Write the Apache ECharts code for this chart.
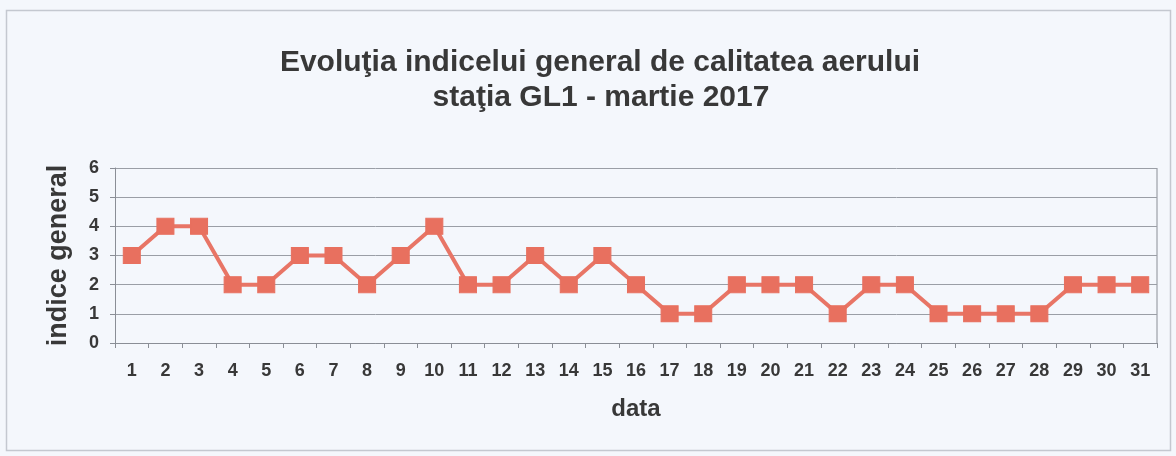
<!DOCTYPE html>
<html><head><meta charset="utf-8">
<script src="https://cdn.jsdelivr.net/npm/echarts@6/dist/echarts.min.js"></script>
<style>html,body{margin:0;padding:0;background:#f4f7fc;}#c{width:1176px;height:456px;}</style>
</head><body><div id="c"></div>
<script>
const categories = ['1','2','3','4','5','6','7','8','9','10','11','12','13','14','15','16','17','18','19','20','21','22','23','24','25','26','27','28','29','30','31'];
const values = [3,4,4,2,2,3,3,2,3,4,2,2,3,2,3,2,1,1,2,2,2,1,2,2,1,1,1,1,2,2,2];
const titleLine1 = 'Evoluţia indicelui general de calitatea aerului';
const titleLine2 = 'staţia GL1 - martie 2017';
const font = 'Liberation Sans, Arial, sans-serif';
const chart = echarts.init(document.getElementById('c'));
chart.setOption({
  backgroundColor: '#f4f7fc',
  animation: false,
  graphic: [
    {type:'rect', shape:{x:6.5,y:10.5,width:1164,height:440}, style:{fill:null, stroke:'#c4c8d0', lineWidth:1.5}},
    {type:'line', shape:{x1:1157,y1:168,x2:1157,y2:343}, style:{stroke:'#8a8e96', lineWidth:1}}
  ],
  title: [
    {text: titleLine1, left: 595, top: 43, textAlign: 'center', textStyle:{fontFamily:font, fontSize:30, fontWeight:'bold', color:'#383838'}},
    {text: titleLine2, left: 596, top: 78, textAlign: 'center', textStyle:{fontFamily:font, fontSize:30, fontWeight:'bold', color:'#383838'}}
  ],
  grid: {left:115, right:19, top:168, bottom:113},
  xAxis: {
    type:'category', data: categories, boundaryGap:true,
    name:'data', nameLocation:'middle', nameGap:54,
    nameTextStyle:{fontFamily:font, fontSize:24, fontWeight:'bold', color:'#383838'},
    axisLine:{lineStyle:{color:'#8a8e96', width:1}},
    axisTick:{show:true, alignWithLabel:false, length:5, lineStyle:{color:'#8a8e96'}},
    axisLabel:{fontFamily:font, fontSize:18, fontWeight:'bold', color:'#383838', margin:19, interval:0},
    splitLine:{show:false}
  },
  yAxis: {
    type:'value', min:0, max:6, interval:1,
    name:'indice general', nameLocation:'middle', nameGap:43, nameRotate:90,
    nameTextStyle:{fontFamily:font, fontSize:27, fontWeight:'bold', color:'#383838'},
    axisLine:{show:true, lineStyle:{color:'#8a8e96', width:1}},
    axisTick:{show:true, length:5, lineStyle:{color:'#8a8e96'}},
    axisLabel:{fontFamily:font, fontSize:18, fontWeight:'bold', color:'#383838', margin:16},
    splitLine:{show:true, lineStyle:{color:'#9a9ea6', width:1}}
  },
  series: [{
    type:'line', data: values,
    symbol:'rect', symbolSize:[17,16],
    lineStyle:{color:'#e87566', width:4},
    itemStyle:{color:'#e8705f', borderColor:'#e8705f'}
  }]
});
</script></body></html>
